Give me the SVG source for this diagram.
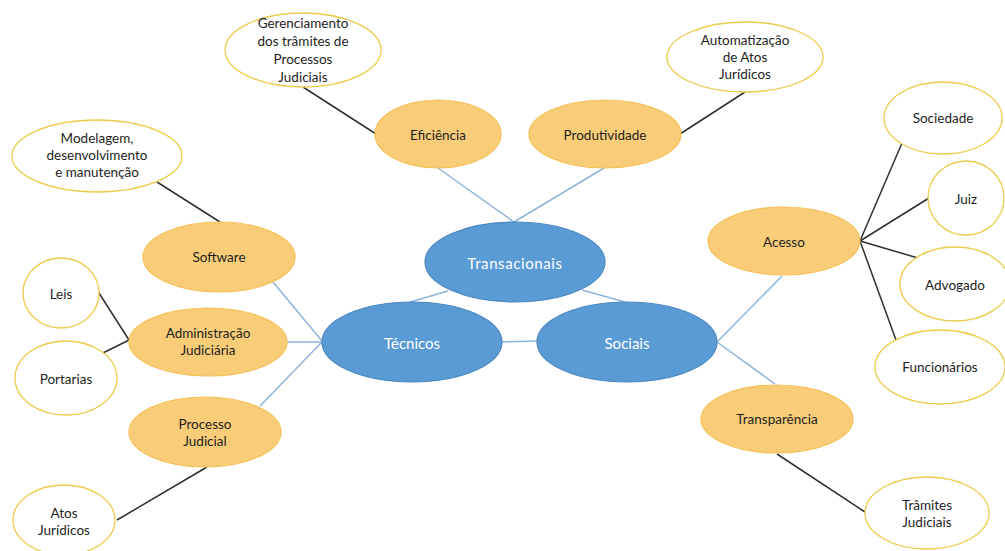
<svg xmlns="http://www.w3.org/2000/svg" width="1005" height="551" viewBox="0 0 1005 551">
  <style>
    .core ellipse { fill: #5b9bd5; stroke: #4a86bf; stroke-width: 1.2; }
    .core text { fill: #ffffff; font-family: Lato, "Liberation Sans", sans-serif; font-size: 15px; text-anchor: middle; dominant-baseline: central; }
    .topic ellipse { fill: #f9cd78; stroke: #f5c056; stroke-width: 1.2; }
    .leaf ellipse { fill: #ffffff; stroke: #eccb4a; stroke-width: 1.3; }
    .topic text, .leaf text { fill: #1e1e1e; font-family: Lato, "Liberation Sans", sans-serif; font-size: 13.5px; text-anchor: middle; dominant-baseline: central; }
    .blue line { stroke: #8fb3da; stroke-width: 1.5; }
    .dark line { stroke: #2f2f2f; stroke-width: 1.5; }
  </style>
  <rect width="1005" height="551" fill="#ffffff"/>

  <g id="connectors">
    <g class="blue">
      <line x1="438" y1="168" x2="514" y2="222"/>
      <line x1="604" y1="168" x2="514" y2="222"/>
      <line x1="448" y1="291" x2="410" y2="302"/>
      <line x1="582" y1="290" x2="625" y2="302"/>
      <line x1="502" y1="342" x2="538" y2="341"/>
      <line x1="273" y1="282" x2="322" y2="341"/>
      <line x1="287" y1="342" x2="322" y2="342"/>
      <line x1="260" y1="406" x2="322" y2="342"/>
      <line x1="717" y1="342" x2="782" y2="276"/>
      <line x1="717" y1="342" x2="775" y2="384"/>
    </g>
    <g class="dark">
      <line x1="303" y1="87" x2="376" y2="134"/>
      <line x1="745" y1="92" x2="680" y2="134"/>
      <line x1="157" y1="182" x2="220" y2="222"/>
      <line x1="99" y1="293" x2="129" y2="340"/>
      <line x1="103" y1="353" x2="129" y2="340"/>
      <line x1="207" y1="467" x2="117" y2="520"/>
      <line x1="860" y1="241" x2="902" y2="143"/>
      <line x1="860" y1="241" x2="929" y2="198"/>
      <line x1="860" y1="241" x2="918" y2="258"/>
      <line x1="860" y1="241" x2="896" y2="340"/>
      <line x1="777" y1="454" x2="865" y2="512"/>
    </g>
  </g>

  <!-- central themes -->
  <g id="transacionais" class="core">
    <ellipse cx="515" cy="262" rx="90" ry="40"/>
    <text x="515" y="263" letter-spacing="0.6">Transacionais</text>
  </g>
  <g id="tecnicos" class="core">
    <ellipse cx="412" cy="342" rx="90" ry="40"/>
    <text x="412" y="343">Técnicos</text>
  </g>
  <g id="sociais" class="core">
    <ellipse cx="627" cy="342" rx="90" ry="40"/>
    <text x="627" y="343">Sociais</text>
  </g>

  <!-- topics -->
  <g id="eficiencia" class="topic">
    <ellipse cx="438" cy="134" rx="63" ry="34"/>
    <text x="438" y="135">Eficiência</text>
  </g>
  <g id="produtividade" class="topic">
    <ellipse cx="605" cy="134" rx="76" ry="34"/>
    <text x="605" y="135">Produtividade</text>
  </g>
  <g id="software" class="topic">
    <ellipse cx="219" cy="257" rx="76" ry="35"/>
    <text x="219" y="257">Software</text>
  </g>
  <g id="administracao" class="topic">
    <ellipse cx="208" cy="342" rx="79" ry="34"/>
    <text x="208" y="333">Administração</text>
    <text x="208" y="350">Judiciária</text>
  </g>
  <g id="processo" class="topic">
    <ellipse cx="205" cy="432" rx="76" ry="35"/>
    <text x="205" y="424">Processo</text>
    <text x="205" y="441">Judicial</text>
  </g>
  <g id="acesso" class="topic">
    <ellipse cx="784" cy="241" rx="76" ry="34"/>
    <text x="784" y="242">Acesso</text>
  </g>
  <g id="transparencia" class="topic">
    <ellipse cx="777" cy="419" rx="76" ry="34"/>
    <text x="777" y="419">Transparência</text>
  </g>

  <!-- details -->
  <g id="gerenciamento" class="leaf">
    <ellipse cx="303" cy="50" rx="78" ry="37"/>
    <text x="303" y="23">Gerenciamento</text>
    <text x="303" y="41">dos trâmites de</text>
    <text x="303" y="59">Processos</text>
    <text x="303" y="77">Judiciais</text>
  </g>
  <g id="automatizacao" class="leaf">
    <ellipse cx="745" cy="57" rx="78" ry="35"/>
    <text x="745" y="40">Automatização</text>
    <text x="745" y="57">de Atos</text>
    <text x="745" y="74">Jurídicos</text>
  </g>
  <g id="modelagem" class="leaf">
    <ellipse cx="97" cy="156" rx="85" ry="36"/>
    <text x="97" y="138">Modelagem,</text>
    <text x="97" y="155">desenvolvimento</text>
    <text x="97" y="172">e manutenção</text>
  </g>
  <g id="leis" class="leaf">
    <ellipse cx="61" cy="293" rx="38" ry="35"/>
    <text x="61" y="294">Leis</text>
  </g>
  <g id="portarias" class="leaf">
    <ellipse cx="66" cy="378" rx="51" ry="37"/>
    <text x="66" y="379">Portarias</text>
  </g>
  <g id="atos" class="leaf">
    <ellipse cx="64" cy="520" rx="51" ry="35"/>
    <text x="64" y="513">Atos</text>
    <text x="64" y="530">Jurídicos</text>
  </g>
  <g id="sociedade" class="leaf">
    <ellipse cx="943" cy="118" rx="59" ry="36"/>
    <text x="943" y="118">Sociedade</text>
  </g>
  <g id="juiz" class="leaf">
    <ellipse cx="966" cy="198" rx="38" ry="37"/>
    <text x="966" y="199">Juiz</text>
  </g>
  <g id="advogado" class="leaf">
    <ellipse cx="955" cy="284" rx="55" ry="37"/>
    <text x="955" y="285">Advogado</text>
  </g>
  <g id="funcionarios" class="leaf">
    <ellipse cx="940" cy="367" rx="65" ry="37"/>
    <text x="940" y="367">Funcionários</text>
  </g>
  <g id="tramites" class="leaf">
    <ellipse cx="927" cy="513" rx="62" ry="36"/>
    <text x="927" y="505">Trâmites</text>
    <text x="927" y="522">Judiciais</text>
  </g>
</svg>
